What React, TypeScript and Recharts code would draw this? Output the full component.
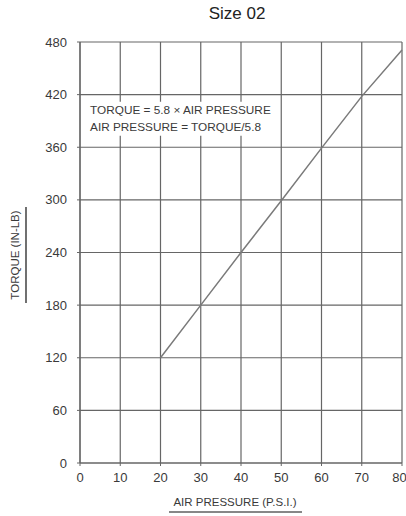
import React from "react";
import {
  LineChart,
  Line,
  XAxis,
  YAxis,
  CartesianGrid,
  ReferenceArea,
  Label,
} from "recharts";

// Size 02: torque vs air pressure

const pressureTicks = [0, 10, 20, 30, 40, 50, 60, 70, 80];
const torqueTicks = [0, 60, 120, 180, 240, 300, 360, 420, 480];

const pressure = [20, 30, 40, 50, 60, 70, 80];
const torque = [120, 180, 240, 299, 359, 418, 471];

const formulaLines = ["TORQUE = 5.8 × AIR PRESSURE", "AIR PRESSURE = TORQUE/5.8"];

const data = pressure.map((p, i) => ({ p, t: torque[i] }));

const FONT = "'Liberation Sans', Arial, Helvetica, sans-serif";
const INK = "#3a3a3a";
const GRID = "#666";

function YLabel() {
  return (
    <g>
      <text
        x={0}
        y={0}
        transform="translate(19,255) rotate(-90)"
        textAnchor="middle"
        fontSize={11.5}
        fontFamily={FONT}
        fill={INK}
      >
        TORQUE (IN-LB)
      </text>
      <line x1={26} y1={207} x2={26} y2={303} stroke="#111" strokeWidth={1.2} />
    </g>
  );
}

function XLabel() {
  return (
    <g>
      <text
        x={235}
        y={506}
        textAnchor="middle"
        fontSize={11.5}
        fontFamily={FONT}
        fill={INK}
      >
        AIR PRESSURE (P.S.I.)
      </text>
      <line x1={169} y1={512} x2={302} y2={512} stroke="#111" strokeWidth={1.2} />
    </g>
  );
}

function FormulaBox(props: any) {
  const vb = props.viewBox || {};
  return (
    <g>
      {formulaLines.map((s, i) => (
        <text
          key={i}
          x={vb.x + 6}
          y={vb.y + 12 + i * 17}
          fontSize={11.8}
          fontFamily={FONT}
          fill={INK}
        >
          {s}
        </text>
      ))}
    </g>
  );
}

export default function App() {
  return (
    <div style={{ position: "absolute", left: 0, top: 0, width: 406, height: 516, background: "#fff" }}>
      <div
        style={{
          position: "absolute",
          left: 0,
          width: 474,
          top: 4,
          textAlign: "center",
          fontFamily: FONT,
          fontSize: 17,
          color: "#222",
        }}
      >
        Size 02
      </div>
      <LineChart
        width={406}
        height={516}
        data={data}
        margin={{ top: 42, right: 4, bottom: 0, left: 0 }}
      >
        <CartesianGrid stroke={GRID} strokeWidth={1.2} />
        <XAxis
          dataKey="p"
          type="number"
          domain={[0, 80]}
          ticks={pressureTicks}
          height={53}
          tick={{ fill: INK, fontSize: 13, fontFamily: FONT }}
          tickLine={{ stroke: GRID }}
          tickSize={3}
          tickMargin={7}
          axisLine={{ stroke: GRID, strokeWidth: 1.2 }}
        >
          <Label content={<XLabel />} />
        </XAxis>
        <YAxis
          type="number"
          domain={[0, 480]}
          ticks={torqueTicks}
          width={80}
          tick={{ fill: INK, fontSize: 13, fontFamily: FONT }}
          tickLine={{ stroke: GRID }}
          tickSize={3}
          tickMargin={10}
          axisLine={{ stroke: GRID, strokeWidth: 1.2 }}
        >
          <Label content={<YLabel />} />
        </YAxis>
        <ReferenceArea
          x1={1}
          x2={48.5}
          y1={373}
          y2={412}
          fill="#fff"
          fillOpacity={1}
          stroke="none"
          label={<FormulaBox />}
        />
        <Line
          dataKey="t"
          type="linear"
          stroke="#7a7a7a"
          strokeWidth={1.5}
          dot={false}
          isAnimationActive={false}
        />
      </LineChart>
    </div>
  );
}
